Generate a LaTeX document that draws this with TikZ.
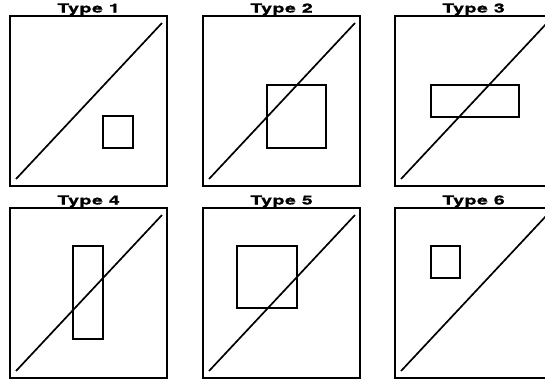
\documentclass[tikz,border=0pt]{standalone}
\usepackage{fontspec}
\newfontfamily\titlefont[FakeStretch=1.55,LetterSpace=5,FakeBold=1.2]{TeX Gyre Heros}
\usetikzlibrary{positioning,calc}

\begin{document}
\begin{tikzpicture}[
  x=1pt,y=-1pt,
  frame/.style={draw,line width=1.8pt,inner sep=0pt,outer sep=0pt,
                minimum width=157pt,minimum height=170pt,anchor=north west},
  title/.style={font=\titlefont\bfseries\fontsize{12.5}{14}\selectfont,anchor=base,inner sep=0pt},
  diag/.style={line width=1.7pt},
  inset/.style={line width=1.4pt},
]

%% ---- Page size and clipping ------------------------------------------------
\clip (0,0) rectangle (545,381);

%% ---- Frames ----------------------------------------------------------------
\node[frame] (f1) at (10,16)  {};
\node[frame] (f2) at (203,16) {};
\node[frame] (f3) at (395,16) {};
\node[frame] (f4) at (10,208)  {};
\node[frame] (f5) at (203,208) {};
\node[frame] (f6) at (395,208) {};

%% ---- Titles ----------------------------------------------------------------
\node[title] (t1) at ([yshift=3.5pt]f1.north) {Type 1};
\node[title] (t2) at ([yshift=3.5pt]f2.north) {Type 2};
\node[title] (t3) at ([yshift=3.5pt]f3.north) {Type 3};
\node[title] (t4) at ([yshift=3.5pt]f4.north) {Type 4};
\node[title] (t5) at ([yshift=3.5pt]f5.north) {Type 5};
\node[title] (t6) at ([yshift=3.5pt]f6.north) {Type 6};

%% ---- Diagonals -------------------------------------------------------------
\draw[diag] ([shift={(6,-7)}]f1.south west) -- ([shift={(-5,7)}]f1.north east);
\draw[diag] ([shift={(6,-7)}]f2.south west) -- ([shift={(-5,7)}]f2.north east);
\draw[diag] ([shift={(6,-7)}]f3.south west) -- ([shift={(-5,7)}]f3.north east);
\draw[diag] ([shift={(6,-7)}]f4.south west) -- ([shift={(-5,7)}]f4.north east);
\draw[diag] ([shift={(6,-7)}]f5.south west) -- ([shift={(-5,7)}]f5.north east);
\draw[diag] ([shift={(6,-7)}]f6.south west) -- ([shift={(-5,7)}]f6.north east);

%% ---- Inset rectangles ------------------------------------------------------
\draw[inset] ([shift={(93,100)}]f1.north west) rectangle ([shift={(123,132)}]f1.north west);
\draw[inset] ([shift={(64,69)}]f2.north west)  rectangle ([shift={(123,132)}]f2.north west);
\draw[inset] ([shift={(36,69)}]f3.north west)  rectangle ([shift={(124,101)}]f3.north west);
\draw[inset] ([shift={(63,38)}]f4.north west)  rectangle ([shift={(93,131)}]f4.north west);
\draw[inset] ([shift={(34,38)}]f5.north west)  rectangle ([shift={(94,100)}]f5.north west);
\draw[inset] ([shift={(36,38)}]f6.north west)  rectangle ([shift={(65,70)}]f6.north west);

\end{tikzpicture}
\end{document}
